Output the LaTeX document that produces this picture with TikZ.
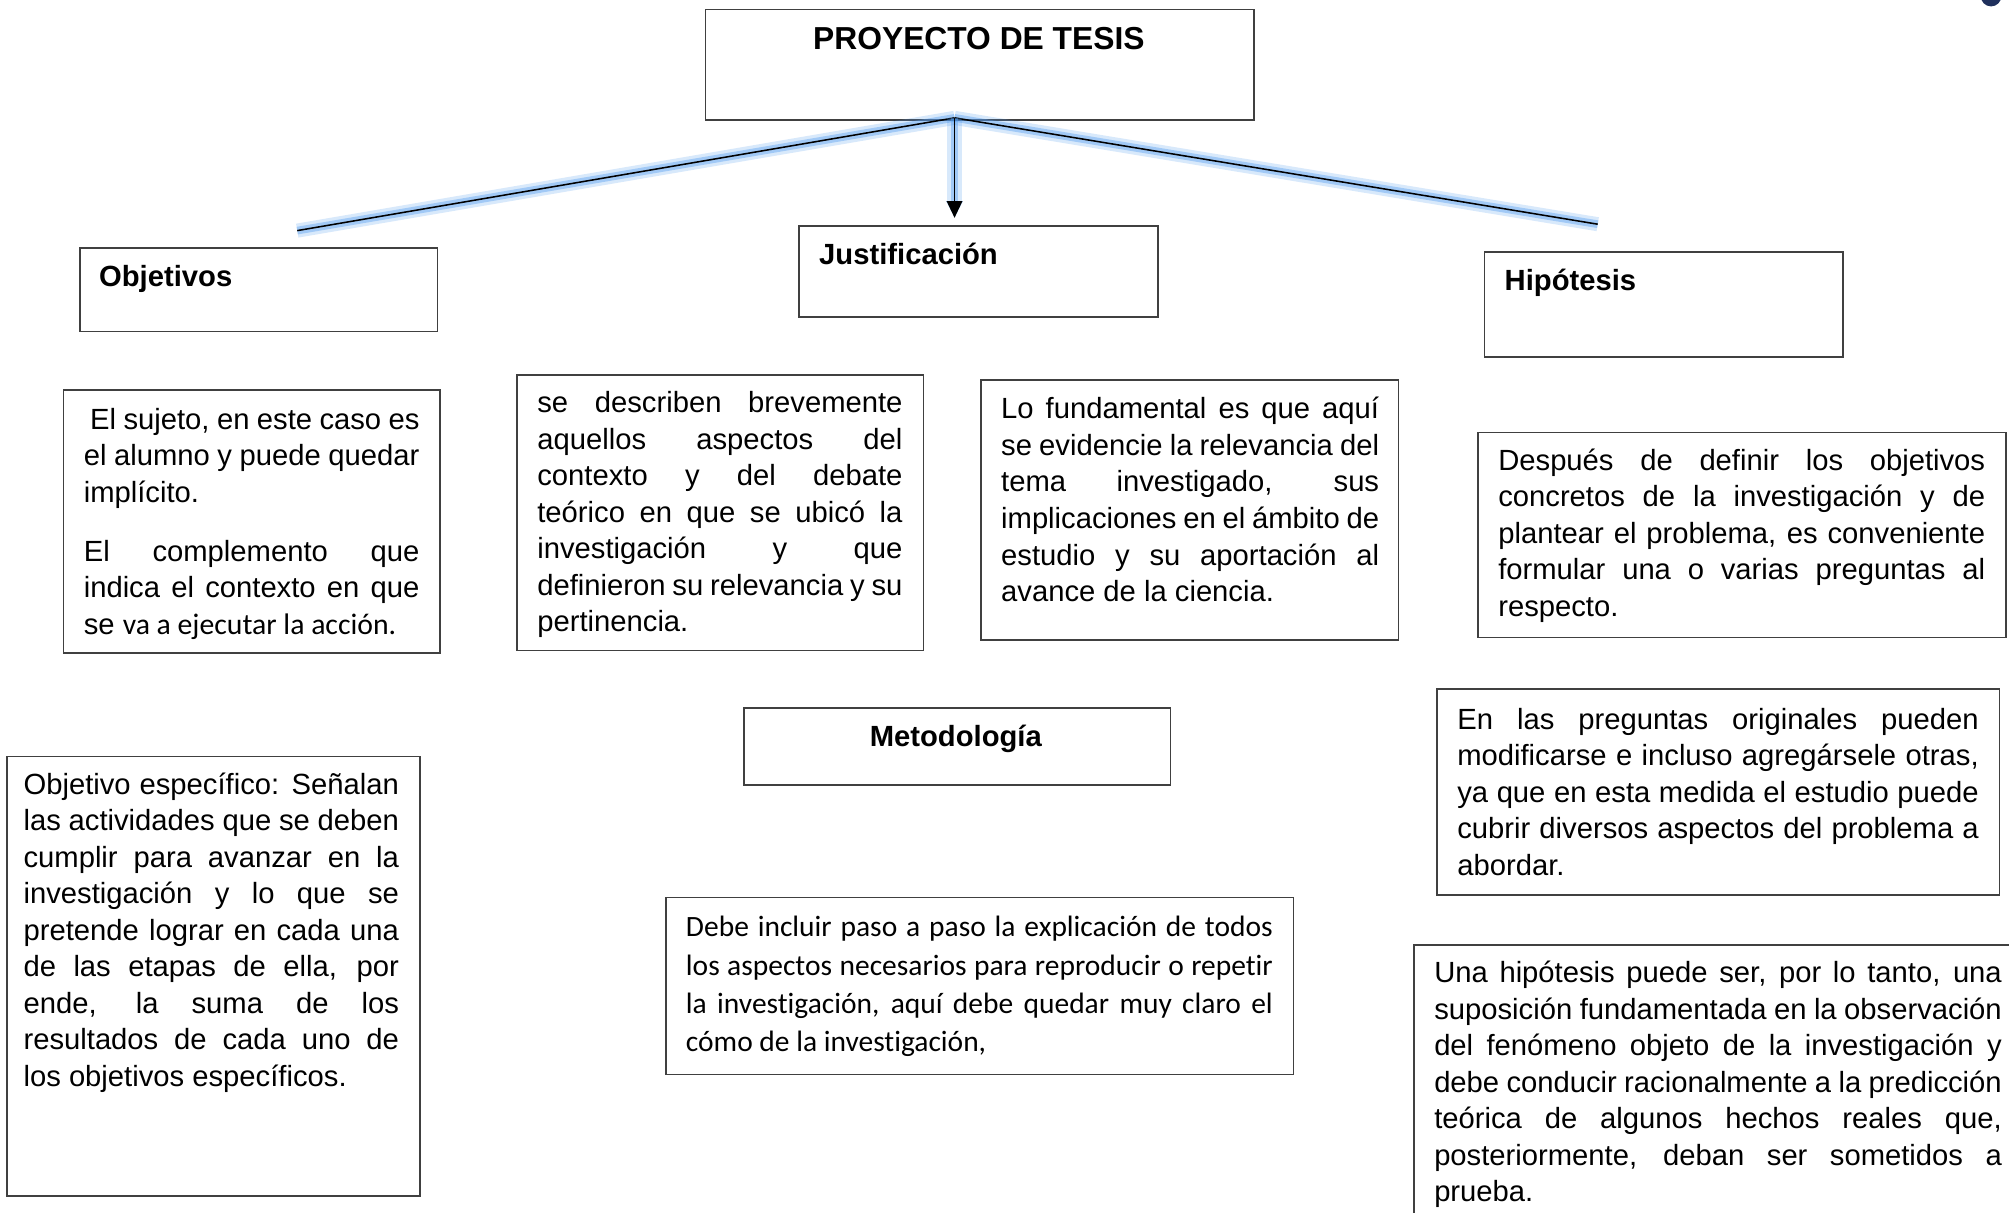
\documentclass[tikz,border=0pt]{standalone}
\usepackage{fontspec}
\setmainfont{Liberation Sans}
\newfontfamily\calfont[Ligatures=NoCommon]{Carlito}
\usetikzlibrary{arrows.meta}
\definecolor{glowblue}{RGB}{80,155,240}
\definecolor{navydot}{RGB}{31,48,92}
\newcommand{\J}[1]{\makebox[\linewidth][s]{#1}}
\newcommand{\bodyfont}{\fontsize{11.4}{14.25}\selectfont}
\tikzset{
  box/.style={draw=black!75, line width=0.6pt, rectangle, inner sep=0pt, anchor=north west},
  txt/.style={anchor=base west, inner sep=0pt, font=\bodyfont},
  ttl/.style={anchor=base west, inner sep=0pt, font=\fontsize{11.4}{14}\selectfont\bfseries},
  glowline/.style={line width=0.6pt, black,
    preaction={draw=glowblue, line width=5.5pt, opacity=0.22},
    preaction={draw=glowblue, line width=3pt, opacity=0.4}}
}
\begin{document}
\begin{tikzpicture}[x=0.5pt,y=-0.5pt]
\useasboundingbox (0,0) rectangle (1568,946);
\clip (0,0) rectangle (1568,946);
\fill[white] (0,0) rectangle (1568,946);
\fill[navydot] (1554,-3) circle (4pt);

% boxes
\node[box, minimum width=214pt, minimum height=43pt] (top) at (550,7) {};
\node[box, minimum width=139.5pt, minimum height=32.5pt] (obj) at (62,193) {};
\node[box, minimum width=140pt, minimum height=35.5pt] (just) at (623,176) {};
\node[box, minimum width=140pt, minimum height=41pt] (hip) at (1158,196) {};
\node[box, minimum width=147pt, minimum height=102.5pt] (bA) at (49,304) {};
\node[box, minimum width=158.5pt, minimum height=107.5pt] (bB) at (403,292) {};
\node[box, minimum width=163pt, minimum height=101.5pt] (bC) at (765,296) {};
\node[box, minimum width=206pt, minimum height=80pt] (bD) at (1153,337) {};
\node[box, minimum width=166.5pt, minimum height=30pt] (met) at (580,552) {};
\node[box, minimum width=161pt, minimum height=171.5pt] (bE) at (5,590) {};
\node[box, minimum width=245pt, minimum height=69pt] (bF) at (519,700) {};
\node[box, minimum width=219.5pt, minimum height=80.5pt] (bG) at (1121,537) {};
\node[box, minimum width=238.5pt, minimum height=111.5pt] (bH) at (1103,737) {};

% titles
\node[anchor=base, inner sep=0pt, font=\fontsize{12.4}{15}\selectfont\bfseries] (ttop) at (764,39) {PROYECTO DE TESIS};
\node[ttl] (tobj) at (77,223.5) {Objetivos};
\node[ttl] (tjust) at (639,206.5) {Justificación};
\node[ttl] (thip) at (1174,226.5) {Hipótesis};
\node[anchor=base, inner sep=0pt, font=\fontsize{11.4}{14}\selectfont\bfseries] (tmet) at (746,582.5) {Metodología};

% connectors
\coordinate (hub) at (745,92);
\coordinate (lend) at (232,180);
\coordinate (rend) at (1247,175);
\coordinate (atip) at (745,170);
\draw[glowline] (hub) -- (lend);
\draw[glowline] (hub) -- (rend);
\draw[glowline, -{Triangle[width=6pt,length=6.5pt]}] (hub) -- (atip);

% texts
\node[txt] (xA) at (65,335) {\parbox[t]{131pt}{\bodyfont
\J{\hspace{2.5pt}El sujeto, en este caso es}\\
\J{el alumno y puede quedar}\\
implícito.\\[8.75pt]
\J{El complemento que}\\
\J{indica el contexto en que}\\
se {\calfont\fontsize{11.6}{14.25}\selectfont va a ejecutar la acción.}}};

\node[txt] (xB) at (419,322) {\parbox[t]{142.5pt}{\bodyfont
\J{se describen brevemente}\\
\J{aquellos aspectos del}\\
\J{contexto y del debate}\\
\J{teórico en que se ubicó la}\\
\J{investigación y que}\\
\J{definieron su relevancia y su}\\
pertinencia.}};

\node[txt] (xC) at (781,327) {\parbox[t]{147.5pt}{\bodyfont
\J{Lo fundamental es que aquí}\\
\J{se evidencie la relevancia del}\\
\J{tema investigado, sus}\\
\J{implicaciones en el ámbito de}\\
\J{estudio y su aportación al}\\
avance de la ciencia.}};

\node[txt] (xD) at (1169,367) {\parbox[t]{190pt}{\bodyfont
\J{Después de definir los objetivos}\\
\J{concretos de la investigación y de}\\
\J{plantear el problema, es conveniente}\\
\J{formular una o varias preguntas al}\\
respecto.}};

\node[txt] (xE) at (18,620) {\parbox[t]{146.5pt}{\bodyfont
\J{Objetivo específico: Señalan}\\
\J{las actividades que se deben}\\
\J{cumplir para avanzar en la}\\
\J{investigación y lo que se}\\
\J{pretende lograr en cada una}\\
\J{de las etapas de ella, por}\\
\J{ende, la suma de los}\\
\J{resultados de cada uno de}\\
los objetivos específicos.}};

\node[txt] (xF) at (535,731) {\parbox[t]{229pt}{\calfont\fontsize{11.5}{15}\selectfont
\J{Debe incluir paso a paso la explicación de todos}\\
\J{los aspectos necesarios para reproducir o repetir}\\
\J{la investigación, aquí debe quedar muy claro el}\\
cómo de la investigación,}};

\node[txt] (xG) at (1137,569) {\parbox[t]{203.5pt}{\bodyfont
\J{En las preguntas originales pueden}\\
\J{modificarse e incluso agregársele otras,}\\
\J{ya que en esta medida el estudio puede}\\
\J{cubrir diversos aspectos del problema a}\\
abordar.}};

\node[txt] (xH) at (1119,767) {\parbox[t]{221.5pt}{\bodyfont
\J{Una hipótesis puede ser, por lo tanto, una}\\
\J{suposición fundamentada en la observación}\\
\J{del fenómeno objeto de la investigación y}\\
\J{debe conducir racionalmente a la predicción}\\
\J{teórica de algunos hechos reales que,}\\
\J{posteriormente, deban ser sometidos a}\\
prueba.}};
\end{tikzpicture}
\end{document}
